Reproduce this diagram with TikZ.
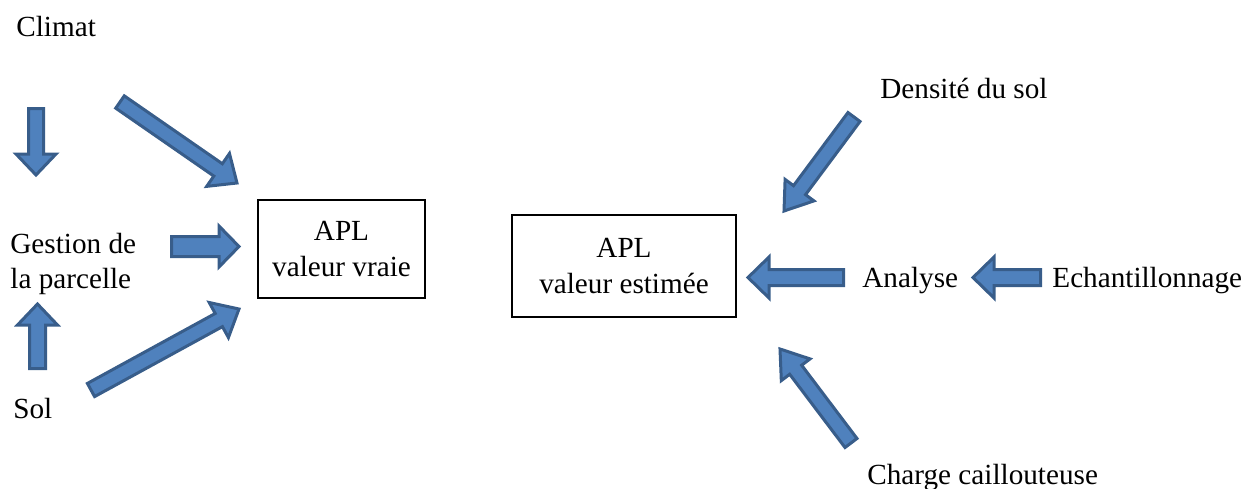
\documentclass[tikz,border=0pt]{standalone}
\usepackage{fontspec}
\setmainfont{Liberation Serif}
\usetikzlibrary{calc}
\definecolor{arrowfill}{HTML}{4F81BD}
\definecolor{arrowdraw}{HTML}{385D8A}
\tikzset{
  lbl/.style={inner sep=0pt, anchor=base west, font=\rmfamily\fontsize{14.6}{17.5}\selectfont},
  apl/.style={draw=black, line width=1pt, inner sep=0pt, align=center,
    font=\rmfamily\fontsize{14.6}{18}\selectfont},
  blockarrow/.style={fill=arrowfill, draw=arrowdraw, line width=1.5pt, line join=miter}
}
% #1 tail, #2 tip, #3 shaft half width, #4 head half width, #5 head length
\newcommand{\blockarr}[5]{%
  \coordinate (ba-h) at ($(#2)!#5!(#1)$);
  \draw[blockarrow] ($(#1)!#3!90:(#2)$) -- ($(ba-h)!#3!-90:(#1)$) -- ($(ba-h)!#4!-90:(#1)$)
    -- (#2) -- ($(ba-h)!#4!90:(#1)$) -- ($(ba-h)!#3!90:(#1)$) -- ($(#1)!#3!-90:(#2)$) -- cycle;
}
\begin{document}
\begin{tikzpicture}[x=0.5pt, y=-0.5pt]
\useasboundingbox (0,0) rectangle (1242,488);
% texts
\node[lbl] (climat) at (16,36) {Climat};
\node[lbl] (gestion) at (10,253) {Gestion de};
\node[lbl] (parcelle) at (10,288) {la parcelle};
\node[lbl] (sol) at (13,418) {Sol};
\node[lbl] (densite) at (880,98) {Densité du sol};
\node[lbl] (analyse) at (862,287) {Analyse};
\node[lbl] (echant) at (1052,287) {Echantillonnage};
\node[lbl] (charge) at (867,484) {Charge caillouteuse};
% boxes
\node[apl, minimum width=83.5pt, minimum height=49pt] (vraie) at (341.5,249) {APL\\valeur vraie};
\node[apl, minimum width=112pt, minimum height=51pt] (estimee) at (624,266) {APL\\valeur estimée};
% arrow coordinates
\coordinate (a1t) at (36,108.5);   \coordinate (a1h) at (36,175);
\coordinate (a2t) at (120,102);    \coordinate (a2h) at (237,183);
\coordinate (a3t) at (171.5,246.5);\coordinate (a3h) at (239,246.5);
\coordinate (a4t) at (37.5,368.5); \coordinate (a4h) at (37.5,304);
\coordinate (a5t) at (91,390);     \coordinate (a5h) at (239,309);
\coordinate (a6t) at (854,117);    \coordinate (a6h) at (784,211);
\coordinate (a7t) at (843.5,277.5);\coordinate (a7h) at (748,277.5);
\coordinate (a8t) at (1040.5,277.5);\coordinate (a8h) at (973,277.5);
\coordinate (a9t) at (851,443);    \coordinate (a9h) at (780,349);
% block arrows
\blockarr{a1t}{a1h}{3.75pt}{10pt}{10.5pt}
\blockarr{a2t}{a2h}{3.75pt}{10pt}{11.5pt}
\blockarr{a3t}{a3h}{5pt}{10.25pt}{10pt}
\blockarr{a4t}{a4h}{4pt}{10pt}{10.5pt}
\blockarr{a5t}{a5h}{3.75pt}{10pt}{11.5pt}
\blockarr{a6t}{a6h}{3.75pt}{9pt}{13pt}
\blockarr{a7t}{a7h}{4pt}{10.25pt}{10.5pt}
\blockarr{a8t}{a8h}{4pt}{10.25pt}{10.5pt}
\blockarr{a9t}{a9h}{3.75pt}{9pt}{13pt}
\end{tikzpicture}
\end{document}
